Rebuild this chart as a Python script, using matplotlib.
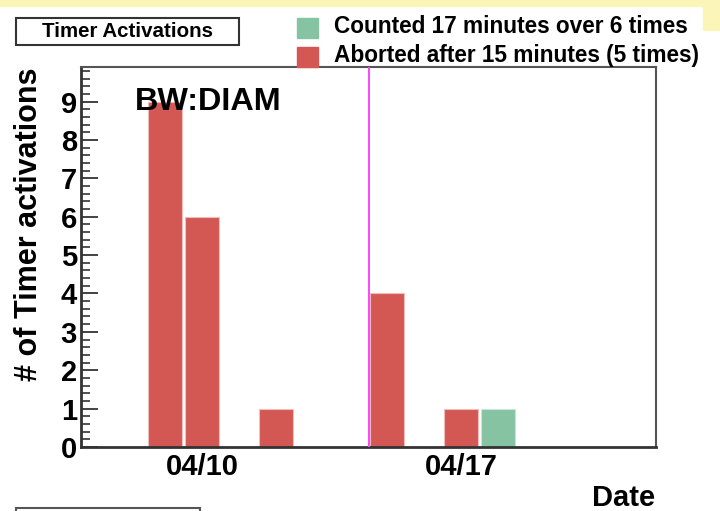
import matplotlib
matplotlib.use('Agg')
import matplotlib.pyplot as plt
from matplotlib.patches import Rectangle
from matplotlib.ticker import MultipleLocator, FixedLocator

plt.rcParams['font.family'] = ['Liberation Sans', 'DejaVu Sans']
plt.rcParams['font.weight'] = 'bold'

# data ========================================================================
aborted_days = [9, 10, 12, 15, 17]      # day of April
aborted_counts = [9, 6, 1, 4, 1]
counted_days = [18]
counted_counts = [1]
tick_days = [10, 17]
tick_labels = ['04/10', '04/17']
marker_day = 14.5

legend_labels = ['Counted 17 minutes over 6 times',
                 'Aborted after 15 minutes (5 times)']
red = '#d35853'
green = '#85c3a3'

W, H = 720, 511
fig = plt.figure(figsize=(7.2, 5.11), dpi=100)

def fx(px):
    return px / W

def fy(py):
    return 1 - py / H

# yellow background strips ====================================================
fig.patches.append(Rectangle((0, fy(6)), 1, 6 / H, transform=fig.transFigure,
                             color='#fbf5b8', zorder=0))
fig.patches.append(Rectangle((fx(703), fy(30)), 17 / W, 30 / H,
                             transform=fig.transFigure, color='#fbf5b8', zorder=0))

ax = fig.add_axes([fx(81), fy(447), fx(656) - fx(81), fy(67) - fy(447)])

ax.bar(aborted_days, aborted_counts, width=0.92, color=red,
       edgecolor='#efbdba', linewidth=0.8, zorder=2)
ax.bar(counted_days, counted_counts, width=0.92, color=green,
       edgecolor='#c8e6d6', linewidth=0.8, zorder=2)
ax.axvline(marker_day, color='#ff44ff', lw=1.4, zorder=3)

ax.set_xlim(6.73, 22.27)
ax.set_ylim(0, 9.9)

ax.xaxis.set_major_locator(FixedLocator(tick_days))
ax.set_xticklabels(tick_labels)
ax.tick_params(axis='x', length=0, pad=4, labelsize=21)

ax.yaxis.set_major_locator(MultipleLocator(1))
ax.yaxis.set_minor_locator(MultipleLocator(0.2))
ax.tick_params(axis='y', which='major', direction='in', length=12, width=1.2,
               pad=3, labelsize=21, color='#222')
ax.tick_params(axis='y', which='minor', direction='in', length=6.5,
               width=1.1, color='#222')

for s in ['left', 'bottom']:
    ax.spines[s].set_linewidth(2)
    ax.spines[s].set_color('#333333')
for s in ['top', 'right']:
    ax.spines[s].set_linewidth(1.5)
    ax.spines[s].set_color('#555555')

ax.text(0.094, 0.887, 'BW:DIAM', transform=ax.transAxes, fontsize=23.3,
        fontweight='bold', va='baseline', ha='left', zorder=4)

# axis titles ==================================================================
fig.text(fx(29.5), fy(67), '# of Timer activations', rotation=90,
         ha='center', va='top', fontsize=22, fontweight='bold')
fig.text(fx(655), fy(506), 'Date', ha='right', va='baseline',
         fontsize=21, fontweight='bold')

# title box ====================================================================
fig.patches.append(Rectangle((fx(16), fy(45)), fx(239) - fx(16), 27 / H,
                             transform=fig.transFigure, facecolor='white',
                             edgecolor='#333333', lw=1.5, zorder=5))
fig.text(fx(127.5), fy(31.5), 'Timer Activations', ha='center', va='center',
         fontsize=14.8, fontweight='bold', zorder=6)

# box at the bottom, only its top edge is in the picture
fig.patches.append(Rectangle((fx(16), fy(540)), fx(200) - fx(16), 32 / H,
                             transform=fig.transFigure, facecolor='white',
                             edgecolor='#555555', lw=1.5, zorder=5))

# legend =======================================================================
fig.patches.append(Rectangle((fx(297), fy(38)), 21 / W, 20 / H,
                             transform=fig.transFigure, color=green, zorder=5))
fig.patches.append(Rectangle((fx(297), fy(67)), 21 / W, 20 / H,
                             transform=fig.transFigure, color=red, zorder=5))
fig.text(fx(334), fy(33), legend_labels[0], ha='left', va='baseline',
         fontsize=16.3, fontweight='bold', zorder=6)
fig.text(fx(334), fy(62), legend_labels[1], ha='left', va='baseline',
         fontsize=16.3, fontweight='bold', zorder=6)

fig.savefig('out.png', dpi=100)
